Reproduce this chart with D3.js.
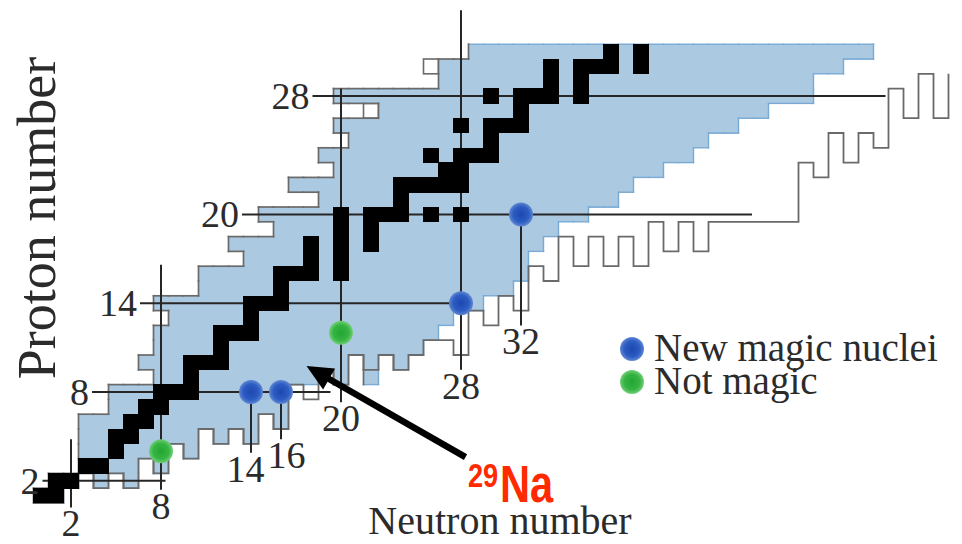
<!DOCTYPE html>
<html><head><meta charset="utf-8">
<script src="https://cdn.jsdelivr.net/npm/d3@7"></script>
<style>html,body{margin:0;padding:0;background:#fff;}svg{display:block;}</style>
</head><body>
<svg id="chart" width="962" height="544"></svg>
<script>
// ---------------- data ----------------
const protonRows = [1,2,3,4,5,6,7,8,9,10,11,12,13,14,15,16,17,18,19,20,21,22,23,24,25,26,27,28,29,30,31];
// known nuclei (blue) : neutron-number ranges per proton row
const knownRanges = [
  [[0,1]], [[1,2],[4,4],[6,6]], [[3,6],[8,8]], [[3,8],[10,10]], [[3,10],[12,12],[14,14]],
  [[3,14],[16,16]], [[5,16]], [[5,16]], [[8,18],[20,20],[22,22]], [[7,20],[22,22],[24,24]],
  [[8,25]], [[8,26]], [[9,27]], [[8,29]], [[11,31]], [[11,32]], [[14,32]], [[13,33]],
  [[16,34]], [[15,36]], [[19,38]], [[17,39]], [[20,41]], [[19,43]], [[21,44]], [[20,46]],
  [[23,48]], [[20,51]], [[27,51]], [[27,53]], [[29,55]]
];
// stable nuclei (black) : neutron numbers per proton row
const stableN = [
  [0,1],[1,2],[3,4],[5],[5,6],[6,7],[7,8],[8,9,10],[10],[10,11,12],[12],[12,13,14],[14],[14,15,16],
  [16],[16,17,18,20],[18,20],[18,20,22],[20,22],[20,22,23,24,26,28],[24],[24,25,26,27,28],[27,28],
  [26,28,29,30],[30],[28,30,31,32],[32],[30,32,33,34,36],[34,36],[34,36,37,38,40],[38,40]
];
// unobserved nuclei drawn as outlined white cells  [N, Z]
const outlinedCells = [[22,27],[26,30]];
// predicted neutron drip line: lowest bound Z for each N
const dripN =    [0,1,2,3,4,5,6,7,8,9,10,11,12,13,14,15,16,17,18,19,20,21,22,23,24,25,26,27,28,29,30,
                  31,32,33,34,35,36,37,38,39,40,41,42,43,44,45,46,47,48,49,50,51,52,53,54,55,56,57,58,59,60];
const dripZmin = [1,1,2,3,2,3,2,4,3,5,4,6,5,6,5,7,6,9,8,10,9,11,10,11,10,11,12,12,11,14,13,
                  15,14,17,16,19,17,19,17,19,17,20,18,20,18,20,20,20,20,20,20,24,23,26,24,26,25,29,27,30,27];
const dripEndZ = 30;
// magic numbers and the extent of their guide lines
const magicN = [2, 8, 14, 16, 20, 28, 32];
const magicNExtent = [[0.2,4.8],[1.4,16.6],[3.9,8],[4.8,8],[7.3,28.5],[9.5,33.8],[12.5,20]];   // in Z
const magicZ = [2, 8, 14, 20, 28];
const magicZExtent = [[0.1,8.3],[3.4,19.3],[6.6,28],[13.4,47.4],[18.1,56.3]];                 // in N
// highlighted nuclei [N, Z]
const newMagic = [[14,8],[16,8],[28,14],[32,20]];
const notMagic = [[8,4],[20,12]];
const legendLabels = ["New magic nuclei", "Not magic"];
const arrowFrom = [28.3, 3.6], arrowTo = [17.7, 9.75];   // [N, Z]

// ---------------- drawing ----------------
const svg = d3.select("#chart");
const x = d3.scaleLinear().domain([8, 32]).range([161, 521]);
const y = d3.scaleLinear().domain([8, 28]).range([392, 96]);
const cw = x(1) - x(0), ch = y(0) - y(1);

const key = (n,z) => n + "," + z;
const known = new Set();
const rowMin = {};
protonRows.forEach((z,i) => {
  rowMin[z] = knownRanges[i][0][0];
  knownRanges[i].forEach(([a,b]) => { for (let n=a; n<=b; n++) known.add(key(n,z)); });
});
const cells = Array.from(known).map(s => s.split(",").map(Number));

const BLUE = "#abc9e1", BLUE_EDGE = "#79aad4", GRAY = "#6a6a6a", LINE = "#262626", TXT = "#2b2b2b";

// white outlined (unobserved) cells
svg.append("g").selectAll("rect").data(outlinedCells).join("rect")
  .attr("x", d => x(d[0]) - cw/2).attr("y", d => y(d[1]) - ch/2)
  .attr("width", cw).attr("height", ch)
  .attr("fill", "#fff").attr("stroke", GRAY).attr("stroke-width", 1.6);

// blue known cells
svg.append("g").attr("shape-rendering","crispEdges").selectAll("rect").data(cells).join("rect")
  .attr("x", d => x(d[0]) - cw/2).attr("y", d => y(d[1]) - ch/2)
  .attr("width", cw + 0.6).attr("height", ch + 0.6).attr("fill", BLUE);

// boundary edges of known region
const edges = [];
cells.forEach(([n,z]) => {
  const L = x(n) - cw/2, R = x(n) + cw/2, T = y(z) - ch/2, B = y(z) + ch/2;
  if (!known.has(key(n-1,z))) edges.push({x1:L,y1:T,x2:L,y2:B,c:GRAY});
  if (!known.has(key(n+1,z))) edges.push({x1:R,y1:T,x2:R,y2:B,c:BLUE_EDGE});
  if (!known.has(key(n,z+1))) {
    const prot = rowMin[z+1] !== undefined && n < rowMin[z+1];
    edges.push({x1:L,y1:T,x2:R,y2:T,c: prot ? GRAY : BLUE_EDGE});
  }
  if (!known.has(key(n,z-1))) {
    const prot = rowMin[z-1] !== undefined && n < rowMin[z-1];
    edges.push({x1:L,y1:B,x2:R,y2:B,c: prot ? GRAY : BLUE_EDGE});
  }
});
svg.append("g").selectAll("line").data(edges.filter(e=>e.c===BLUE_EDGE)).join("line")
  .attr("x1",d=>d.x1).attr("y1",d=>d.y1).attr("x2",d=>d.x2).attr("y2",d=>d.y2)
  .attr("stroke", d=>d.c).attr("stroke-width", 1.4).attr("stroke-linecap","square");
svg.append("g").selectAll("line").data(edges.filter(e=>e.c===GRAY)).join("line")
  .attr("x1",d=>d.x1).attr("y1",d=>d.y1).attr("x2",d=>d.x2).attr("y2",d=>d.y2)
  .attr("stroke", d=>d.c).attr("stroke-width", 1.7).attr("stroke-linecap","square");

// neutron drip line
const dripPts = [];
dripN.forEach((n,i) => {
  const yb = y(dripZmin[i]) + ch/2;
  dripPts.push([x(n) - cw/2, yb], [x(n) + cw/2, yb]);
});
dripPts.push([x(dripN[dripN.length-1]) + cw/2, y(dripEndZ) + ch/2]);
svg.append("path").attr("d", d3.line()(dripPts))
  .attr("fill","none").attr("stroke", GRAY).attr("stroke-width", 1.8).attr("stroke-linejoin","miter");

// magic lines
const gl = svg.append("g");
gl.selectAll("line.v").data(magicN).join("line").attr("class","v")
  .attr("x1", d => x(d)).attr("x2", d => x(d))
  .attr("y1", (d,i) => y(magicNExtent[i][0])).attr("y2", (d,i) => y(magicNExtent[i][1]))
  .attr("stroke", LINE).attr("stroke-width", 2);
gl.selectAll("line.h").data(magicZ).join("line").attr("class","h")
  .attr("y1", d => y(d)).attr("y2", d => y(d))
  .attr("x1", (d,i) => x(magicZExtent[i][0])).attr("x2", (d,i) => x(magicZExtent[i][1]))
  .attr("stroke", LINE).attr("stroke-width", 2);

// stable nuclei
const stableCells = [];
protonRows.forEach((z,i) => stableN[i].forEach(n => stableCells.push([n,z])));
svg.append("g").attr("shape-rendering","crispEdges").selectAll("rect").data(stableCells).join("rect")
  .attr("x", d => x(d[0]) - cw/2 - 0.3).attr("y", d => y(d[1]) - ch/2 - 0.3)
  .attr("width", cw + 0.6).attr("height", ch + 0.6).attr("fill", "#000");

// gradients for dots
const defs = svg.append("defs");
const gb = defs.append("radialGradient").attr("id","gBlue");
gb.append("stop").attr("offset","0%").attr("stop-color","#1c48b0");
gb.append("stop").attr("offset","65%").attr("stop-color","#2c5cc2");
gb.append("stop").attr("offset","100%").attr("stop-color","#5f86d2");
const gg = defs.append("radialGradient").attr("id","gGreen");
gg.append("stop").attr("offset","0%").attr("stop-color","#23a532");
gg.append("stop").attr("offset","65%").attr("stop-color","#36b443");
gg.append("stop").attr("offset","100%").attr("stop-color","#72cf78");

svg.append("g").selectAll("circle").data(newMagic).join("circle")
  .attr("cx", d => x(d[0])).attr("cy", d => y(d[1])).attr("r", 12).attr("fill","url(#gBlue)");
svg.append("g").selectAll("circle").data(notMagic).join("circle")
  .attr("cx", d => x(d[0])).attr("cy", d => y(d[1])).attr("r", 12).attr("fill","url(#gGreen)");

// tick labels
const serif = "'Liberation Serif','Times New Roman',serif";
const nLabels = svg.append("g").selectAll("text").data(magicN).join("text")
  .attr("x", d => x(d)).attr("y", (d,i) => y(magicNExtent[i][0]) + 29)
  .attr("text-anchor","middle").attr("font-family", serif).attr("font-size", 38).attr("fill",TXT)
  .text(d => d);
// push apart neighbouring neutron labels that would collide
const nodes = nLabels.nodes();
for (let i = 1; i < nodes.length; i++) {
  const a = nodes[i-1].getBBox(), b = nodes[i].getBBox();
  const vOverlap = a.y < b.y + b.height && b.y < a.y + a.height;
  const hOverlap = a.x + a.width + 3 - b.x;
  if (vOverlap && hOverlap > 0) {
    d3.select(nodes[i-1]).attr("x", +nodes[i-1].getAttribute("x") - hOverlap/2);
    d3.select(nodes[i]).attr("x", +nodes[i].getAttribute("x") + hOverlap/2);
  }
}
svg.append("g").selectAll("text").data(magicZ).join("text")
  .attr("x", (d,i) => x(magicZExtent[i][0]) - 3).attr("y", d => y(d) + 13)
  .attr("text-anchor","end").attr("font-family", serif).attr("font-size", 38).attr("fill",TXT)
  .text(d => d);

// axis titles
svg.append("text").attr("transform","translate(55,218) rotate(-90)")
  .attr("text-anchor","middle").attr("font-family", serif).attr("font-size", 54).attr("fill",TXT)
  .text("Proton number");
svg.append("text").attr("x", 500).attr("y", 534)
  .attr("text-anchor","middle").attr("font-family", serif).attr("font-size", 40).attr("fill",TXT)
  .text("Neutron number");

// legend (markers + one multi-line text block)
const lg = svg.append("g").attr("transform","translate(632,349)");
lg.selectAll("circle").data(legendLabels).join("circle")
  .attr("cx", 0).attr("cy", (d,i) => i*33).attr("r", 12)
  .attr("fill", (d,i) => i===0 ? "url(#gBlue)" : "url(#gGreen)");
lg.append("text").attr("font-family", serif).attr("font-size", 39).attr("fill",TXT)
  .selectAll("tspan").data(legendLabels).join("tspan")
  .attr("x", 22).attr("y", (d,i) => i*33 + 12).text(d => d);

// arrow to 29Na
const ax0 = x(arrowFrom[0]), ay0 = y(arrowFrom[1]), ax1 = x(arrowTo[0]), ay1 = y(arrowTo[1]);
const len = Math.hypot(ax1-ax0, ay1-ay0), ux = (ax1-ax0)/len, uy = (ay1-ay0)/len;
const headL = 26, headW = 12;
const bx = ax1 - ux*headL, by = ay1 - uy*headL;
svg.append("line").attr("x1", ax0).attr("y1", ay0).attr("x2", bx + ux*2).attr("y2", by + uy*2)
  .attr("stroke","#000").attr("stroke-width", 6.5);
svg.append("path").attr("d", d3.line()([[ax1,ay1],[bx - uy*headW, by + ux*headW],[bx + uy*headW, by - ux*headW]]) + "Z")
  .attr("fill","#000");

// 29Na label: one text, condensed
const sans = "'Liberation Sans',Arial,sans-serif";
const sx = 0.8;
const naText = svg.append("text").attr("transform", `scale(${sx},1)`)
  .attr("font-family", sans).attr("font-weight","bold").attr("fill","#ff2a00");
naText.append("tspan").attr("x", 468/sx).attr("y", 487).attr("font-size", 34).text("29");
naText.append("tspan").attr("x", 500/sx).attr("y", 502).attr("font-size", 52).text("Na");
</script>
</body></html>
